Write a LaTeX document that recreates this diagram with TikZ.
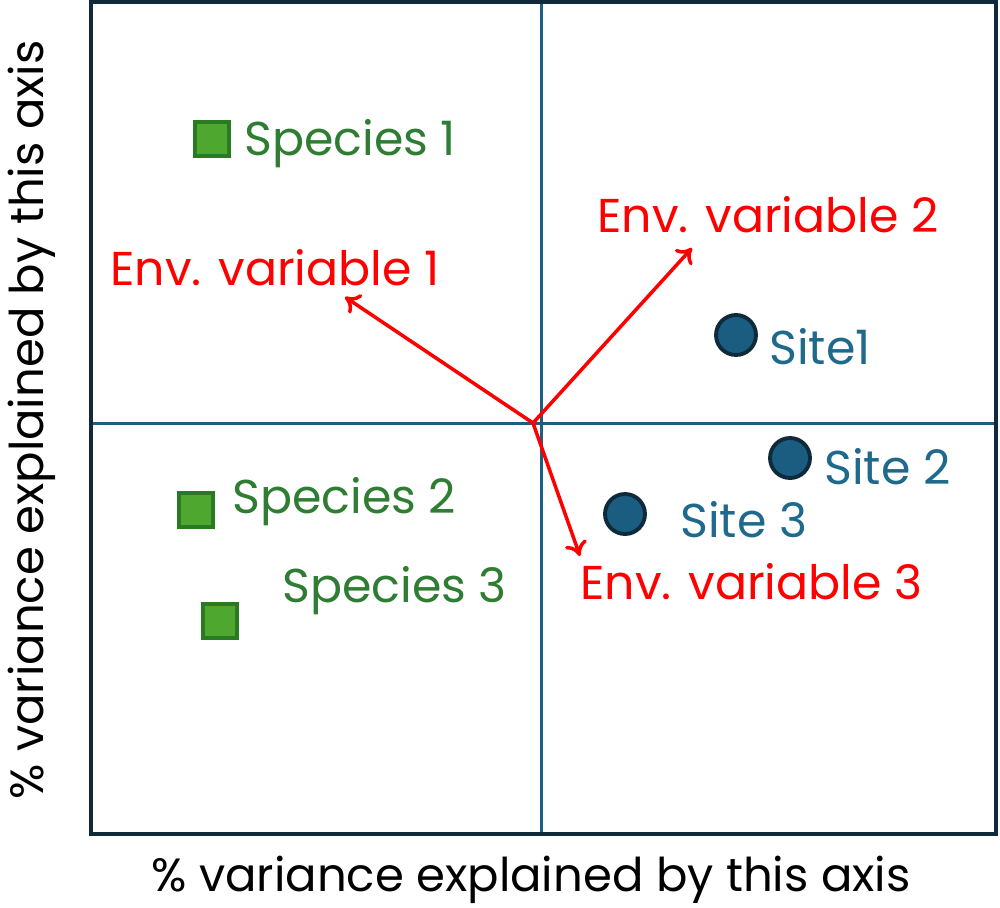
\documentclass[tikz,border=0pt]{standalone}
\usepackage{fontspec}
\setmainfont{Poppins}
\usetikzlibrary{arrows.meta}
\definecolor{frame}{HTML}{0E2A3B}
\definecolor{axisline}{HTML}{1D5F80}
\definecolor{envred}{HTML}{FF0000}
\definecolor{spfill}{HTML}{4EA72E}
\definecolor{spedge}{HTML}{2A7A22}
\definecolor{sptext}{HTML}{2E7D32}
\definecolor{sitefill}{HTML}{1B5D80}
\definecolor{siteedge}{HTML}{0E2A3B}
\definecolor{sitetext}{HTML}{1F6A8C}
\tikzset{
  lbl/.style={anchor=west, inner sep=0pt, font=\fontsize{27}{31}\selectfont},
  envlbl/.style={lbl, text=envred},
  splbl/.style={lbl, text=sptext},
  sitelbl/.style={lbl, text=sitetext},
  spbox/.style={draw=spedge, fill=spfill, line width=2.4pt, minimum size=0.68cm, inner sep=0pt},
  sitedot/.style={circle, draw=siteedge, fill=sitefill, line width=2.2pt, minimum size=0.8cm, inner sep=0pt},
  envarrow/.style={draw=envred, line width=2pt, -{To[length=8pt,width=13pt,line width=2pt]}},
  axlbl/.style={inner sep=0pt, font=\fontsize{26.5}{30}\selectfont, text=black}
}
\begin{document}
\begin{tikzpicture}[x=0.02cm,y=-0.02cm]
\useasboundingbox (0,0) rectangle (1000,907);
% frame and axes
\draw[axisline, line width=1.7pt] (541,2) -- (541,834);
\draw[axisline, line width=1.7pt] (91,423) -- (996,423);
\draw[frame, line width=2.4pt] (91,2) rectangle (996,834);
% arrows
\coordinate (o) at (533,423);
\coordinate (e1) at (345,297);
\coordinate (e2) at (692,248);
\coordinate (e3) at (580,556);
\draw[envarrow] (o) -- (e1);
\draw[envarrow] (o) -- (e2);
\draw[envarrow] (o) -- (e3);
% species
\node[spbox] (s1) at (212,139) {};
\node[spbox] (s2) at (196,510) {};
\node[spbox] (s3) at (220,621) {};
\node[splbl] (t1) at (244,144) {Species 1};
\node[splbl] (t2) at (232,502) {Species 2};
\node[splbl] (t3) at (282,591) {Species 3};
% sites
\node[sitedot] (c1) at (736,335) {};
\node[sitedot] (c2) at (790,458) {};
\node[sitedot] (c3) at (625,514) {};
\node[sitelbl] (u1) at (769,347) {Site1};
\node[sitelbl] (u2) at (824,467) {Site 2};
\node[sitelbl] (u3) at (680,520) {Site 3};
% env labels
\node[envlbl] (v1) at (110,268) {Env. variable 1};
\node[envlbl] (v2) at (597,215) {Env. variable 2};
\node[envlbl] (v3) at (580,582) {Env. variable 3};
% axis labels
\node[axlbl] (xl) at (531,880) {\% variance explained by this axis};
\node[axlbl, rotate=90] (yl) at (32,420) {\% variance explained by this axis};
\end{tikzpicture}
\end{document}
